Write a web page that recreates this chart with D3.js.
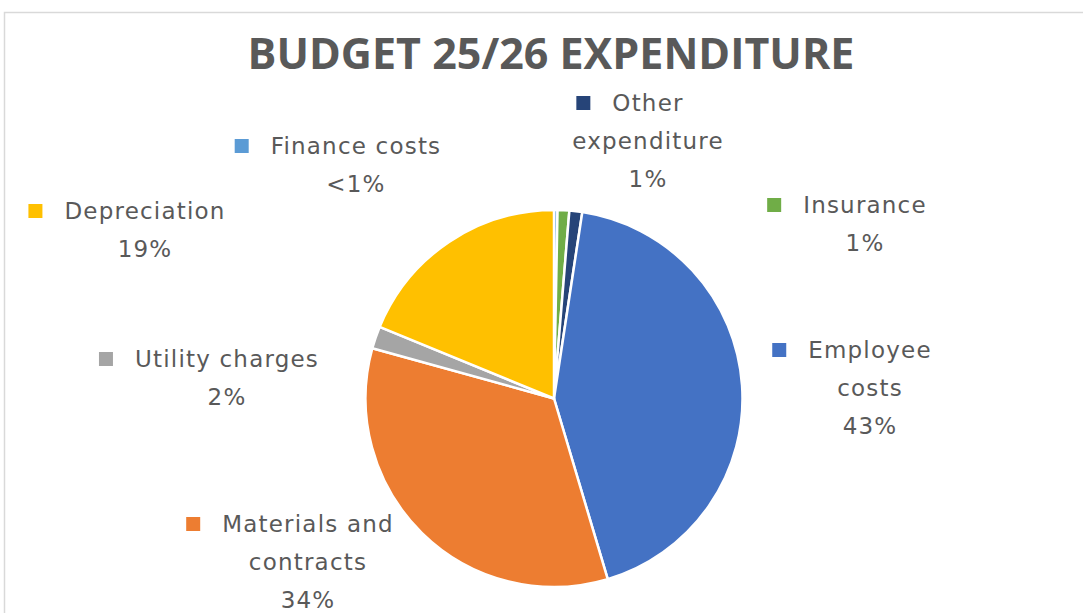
<!DOCTYPE html>
<html>
<head>
<meta charset="utf-8">
<script src="https://cdn.jsdelivr.net/npm/d3@7"></script>
<style>
  body { margin: 0; background: #fff; }
  svg { display: block; }
  text { font-family: "Open Sans", "Noto Sans", sans-serif; fill: #595959; }
  .lbl { font-family: "DejaVu Sans", "Noto Sans", sans-serif; letter-spacing: 1.2px; }
</style>
</head>
<body>
<svg id="chart" width="1083" height="613"></svg>
<script>
// Data (order as drawn: clockwise from 12 o'clock)
const categories = ['Finance costs', 'Insurance', 'Other expenditure', 'Employee costs',
                    'Materials and contracts', 'Utility charges', 'Depreciation'];
const values = [0.3, 1.0, 1.1, 43.0, 33.9, 1.9, 18.8];
const colors = ['#5B9BD5', '#70AD47', '#264478', '#4472C4', '#ED7D31', '#A5A5A5', '#FFC000'];
// label lines as shown on the chart
const labelLines = [
    ['Finance costs'],
    ['Insurance'],
    ['Other', 'expenditure'],
    ['Employee', 'costs'],
    ['Materials and', 'contracts'],
    ['Utility charges'],
    ['Depreciation']
];
// label centres (x, y of first line)
const labelPos = [[356, 146], [865, 205], [648, 103], [870, 350], [308, 524], [227, 359], [145, 211]];

const svg = d3.select('#chart');
const width = 1083, height = 613;

// chart area border
svg.append('rect')
    .attr('x', 4.5).attr('y', 12.5)
    .attr('width', width + 10).attr('height', height + 10)
    .attr('fill', 'none')
    .attr('stroke', '#d9d9d9')
    .attr('stroke-width', 1.5);

// Title
const title = svg.append('text')
    .attr('x', 551).attr('y', 54)
    .attr('dy', '0.35em')
    .attr('text-anchor', 'middle')
    .style('font-weight', 'bold')
    .style('font-size', '37px')
    .text('BUDGET 25/26 EXPENDITURE');
// fit title to the width seen in the reference
const tw = title.node().getComputedTextLength();
title.style('font-size', (37 * 607 / tw) + 'px');

// Pie
const cx = 554, cy = 398.5, radius = 188.5;
const pie = d3.pie().sort(null).value(d => d)(values);
const arc = d3.arc().innerRadius(0).outerRadius(radius);

svg.append('g')
    .attr('transform', `translate(${cx},${cy})`)
    .selectAll('path')
    .data(pie)
    .enter()
    .append('path')
    .attr('d', arc)
    .attr('fill', (d, i) => colors[i])
    .attr('stroke', '#fff')
    .attr('stroke-width', 2.5)
    .attr('stroke-linejoin', 'round');

// Labels
const lineH = 38;
const fontSize = 23;
function pctText(v) {
    return v < 1 ? '<1%' : Math.round(v) + '%';
}

categories.forEach((name, i) => {
    const [lx, ly] = labelPos[i];
    const g = svg.append('g');
    const lines = labelLines[i].concat([pctText(values[i])]);
    let firstWidth = 0;
    lines.forEach((line, j) => {
        const t = g.append('text')
            .attr('class', 'lbl')
            .attr('x', lx)
            .attr('y', ly + j * lineH)
            .attr('dy', '0.35em')
            .attr('text-anchor', 'middle')
            .style('font-size', fontSize + 'px')
            .text(line);
        if (j === 0) firstWidth = t.node().getComputedTextLength();
    });
    // legend key in front of first line
    g.append('rect')
        .attr('x', lx - firstWidth / 2 - 22 - 14)
        .attr('y', ly - 7)
        .attr('width', 14)
        .attr('height', 14)
        .attr('fill', colors[i]);
});
</script>
</body>
</html>
